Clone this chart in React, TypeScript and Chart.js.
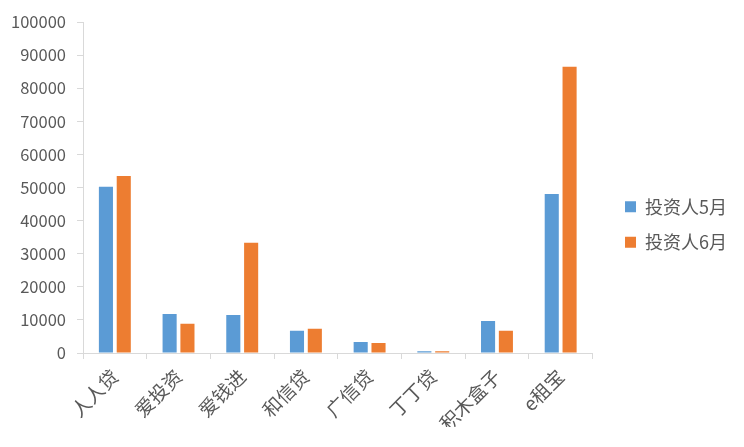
import { useEffect, useRef } from "react"
import { Chart, registerables } from "chart.js"

Chart.register(...registerables)

const categories = ["人人贷", "爱投资", "爱钱进", "和信贷", "广信贷", "丁丁贷", "积木盒子", "e租宝"]
const investorsMay = [50200, 11800, 11500, 6700, 3300, 500, 9700, 48000]
const investorsJune = [53500, 8800, 33300, 7300, 3000, 500, 6700, 86500]
const seriesNames = ["投资人5月", "投资人6月"]

const FONT = "'Noto Sans CJK SC', 'Noto Sans', sans-serif"
const TEXT = "#595959"
const AXIS = "#d9d9d9"

// nudge the legend a little to the right of where Chart.js puts it
const legendShift = {
  id: "legendShift",
  afterLayout(chart: any) {
    if (chart.legend) {
      chart.legend.left += 15
      chart.legend.right += 15
    }
  },
}

export default function App() {
  const chartRef = useRef<HTMLCanvasElement>(null)
  const chartInstance = useRef<Chart | null>(null)

  useEffect(() => {
    if (!chartRef.current) return
    if (chartInstance.current) chartInstance.current.destroy()
    const ctx = chartRef.current.getContext("2d")
    if (!ctx) return

    chartInstance.current = new Chart(ctx, {
      type: "bar",
      data: {
        labels: categories,
        datasets: [
          {
            label: seriesNames[0],
            data: investorsMay,
            backgroundColor: "#5B9BD5",
            categoryPercentage: 0.56,
            barPercentage: 0.79,
          },
          {
            label: seriesNames[1],
            data: investorsJune,
            backgroundColor: "#ED7D31",
            categoryPercentage: 0.56,
            barPercentage: 0.79,
          },
        ],
      },
      options: {
        animation: false,
        responsive: false,
        maintainAspectRatio: false,
        layout: { padding: { left: 10, top: 22, right: 22, bottom: 20 } },
        plugins: {
          tooltip: { enabled: false },
          legend: {
            position: "right",
            labels: {
              boxWidth: 11,
              boxHeight: 11,
              padding: 17.5,
              color: TEXT,
              font: { family: FONT, size: 18 },
            },
          },
        },
        scales: {
          x: {
            afterFit: (scale: any) => {
              scale.height = 74
            },
            grid: {
              display: true,
              drawOnChartArea: false,
              drawTicks: true,
              tickLength: 6,
              color: AXIS,
            },
            border: { display: true, color: AXIS },
            ticks: {
              color: TEXT,
              font: { family: FONT, size: 19 },
              minRotation: 45,
              maxRotation: 45,
              padding: 6,
            },
          },
          y: {
            min: 0,
            max: 100000,
            afterFit: (scale: any) => {
              scale.width = 73
            },
            grid: {
              display: true,
              drawOnChartArea: false,
              drawTicks: true,
              tickLength: 6,
              color: AXIS,
            },
            border: { display: true, color: AXIS },
            ticks: {
              stepSize: 10000,
              color: TEXT,
              font: { family: FONT, size: 16.5 },
              padding: 11,
              callback: (value: any) => String(value),
            },
          },
        },
      },
      plugins: [legendShift],
    })

    return () => {
      if (chartInstance.current) {
        chartInstance.current.destroy()
        chartInstance.current = null
      }
    }
  }, [])

  return (
    <div style={{ position: "fixed", left: 0, top: 0, width: 744, height: 447, background: "#fff" }}>
      <canvas ref={chartRef} width={744} height={447} style={{ width: 744, height: 447 }}></canvas>
    </div>
  )
}
